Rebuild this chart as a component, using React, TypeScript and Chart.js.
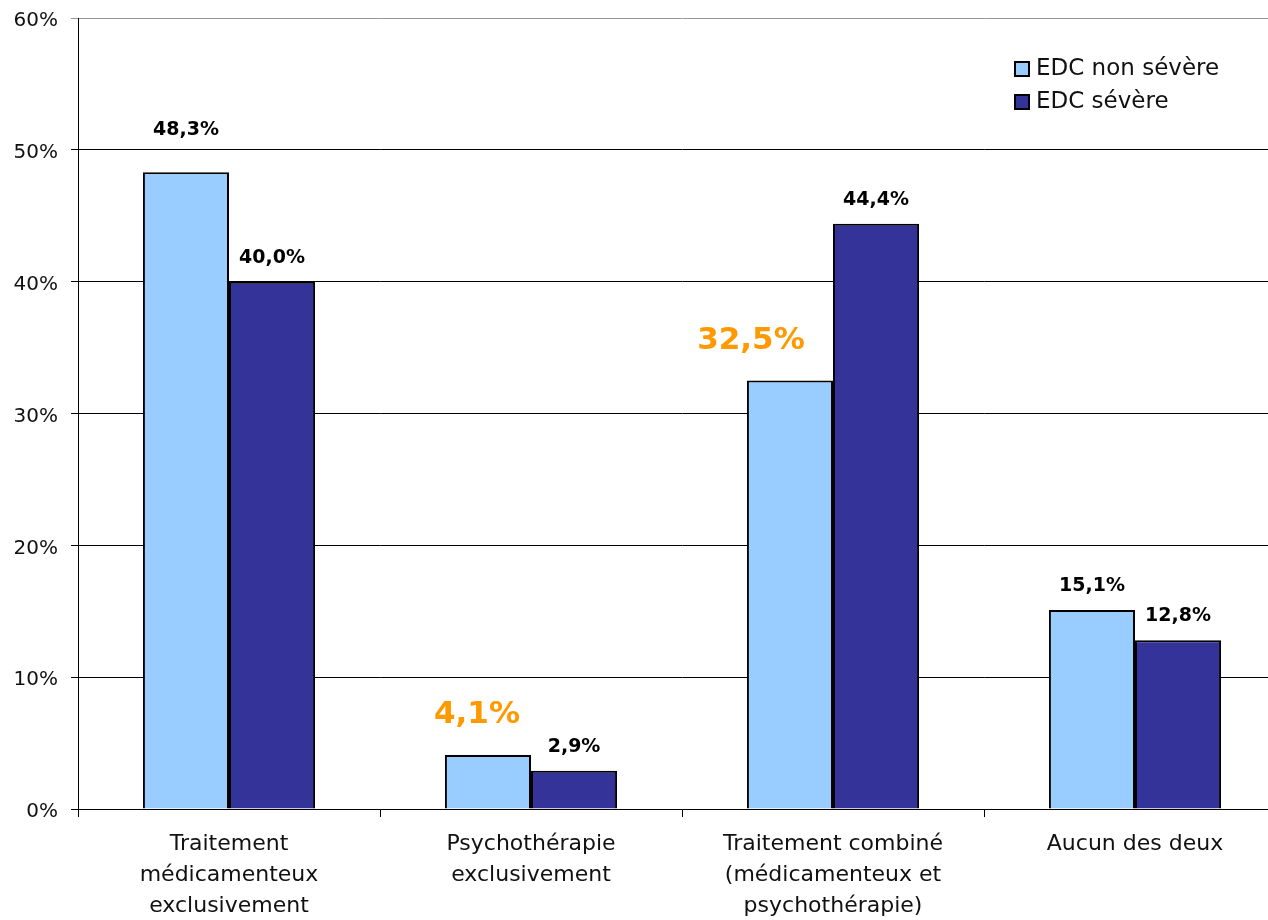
import React, { useEffect, useRef } from "react";
import { Chart, registerables } from "chart.js";

Chart.register(...registerables);

const categories: string[][] = [
  ["Traitement", "médicamenteux", "exclusivement"],
  ["Psychothérapie", "exclusivement"],
  ["Traitement combiné", "(médicamenteux et", "psychothérapie)"],
  ["Aucun des deux"],
];
const seriesNames = ["EDC non sévère", "EDC sévère"];
const nonSevere = [48.3, 4.1, 32.5, 15.1];
const severe = [40.0, 2.9, 44.4, 12.8];
const valueLabels = [
  ["48,3%", "4,1%", "32,5%", "15,1%"],
  ["40,0%", "2,9%", "44,4%", "12,8%"],
];
const highlighted = [
  [false, true, true, false],
  [false, false, false, false],
];

const FONT = "'DejaVu Sans', sans-serif";
const LIGHT = "#99CCFF";
const DARK = "#333399";
const ORANGE = "#FF9900";

const labelPlugin = {
  id: "valueLabels",
  afterDatasetsDraw(chart: any) {
    const ctx = chart.ctx;
    ctx.save();
    ctx.textAlign = "center";
    ctx.textBaseline = "middle";
    chart.data.datasets.forEach((_ds: any, di: number) => {
      const meta = chart.getDatasetMeta(di);
      meta.data.forEach((bar: any, i: number) => {
        const hi = highlighted[di][i];
        const big = di === 0 && i === 0;
        ctx.fillStyle = hi ? ORANGE : "#000";
        ctx.font = hi ? `bold 31px ${FONT}` : `bold 19px ${FONT}`;
        const dy = hi ? 40 : big ? 42 : 24;
        const dx = hi ? (i === 2 ? -39 : -11) : 0;
        ctx.fillText(valueLabels[di][i], bar.x + dx, bar.y - dy);
      });
    });
    ctx.restore();
  },
};

const legendPlugin = {
  id: "customLegend",
  afterDraw(chart: any) {
    const ctx = chart.ctx;
    ctx.save();
    const colors = [LIGHT, DARK];
    ctx.font = `23px ${FONT}`;
    ctx.textBaseline = "middle";
    ctx.textAlign = "left";
    seriesNames.forEach((name, i) => {
      const y = 69 + i * 33;
      ctx.fillStyle = colors[i];
      ctx.fillRect(1015, y - 7, 14, 14);
      ctx.strokeStyle = "#000";
      ctx.lineWidth = 2;
      ctx.strokeRect(1015, y - 7, 14, 14);
      ctx.fillStyle = "#111";
      ctx.fillText(name, 1036, y);
    });
    ctx.restore();
  },
};

export default function App() {
  const ref = useRef<HTMLCanvasElement>(null);
  useEffect(() => {
    if (!ref.current) return;
    const chart = new Chart(ref.current, {
      type: "bar",
      data: {
        labels: categories,
        datasets: [
          {
            label: seriesNames[0],
            data: nonSevere,
            backgroundColor: LIGHT,
            borderColor: "#000",
            borderWidth: 2,
          },
          {
            label: seriesNames[1],
            data: severe,
            backgroundColor: DARK,
            borderColor: "#000",
            borderWidth: 2,
          },
        ],
      },
      options: {
        animation: false,
        responsive: true,
        maintainAspectRatio: false,
        layout: { padding: { top: 18, right: 14, left: 0, bottom: 0 } },
        datasets: { bar: { categoryPercentage: 0.57, barPercentage: 1 } },
        plugins: { legend: { display: false }, tooltip: { enabled: false } },
        scales: {
          x: {
            offset: true,
            grid: {
              offset: true,
              drawOnChartArea: false,
              drawTicks: true,
              tickLength: 8,
              color: "#000",
            },
            border: { display: true, color: "#000", width: 1 },
            ticks: {
              color: "#111",
              font: { family: FONT, size: 22, lineHeight: 1.4 },
              padding: 12,
              maxRotation: 0,
              autoSkip: false,
            },
            afterFit: (s: any) => {
              s.height = 111;
              s.paddingTop = 0;
              s.paddingBottom = 0;
            },
          },
          y: {
            min: 0,
            max: 60,
            grid: {
              color: (c: any) => (c.tick && c.tick.value === 60 ? "#999" : "#000"),
              lineWidth: 1,
              drawTicks: true,
              tickLength: 7,
            },
            border: { display: true, color: "#000", width: 1 },
            ticks: {
              stepSize: 10,
              color: "#111",
              font: { family: FONT, size: 20 },
              padding: 13,
              labelOffset: 3,
              callback: (v: any) => `${v}%`,
            },
            afterFit: (s: any) => {
              s.width = 78;
              s.paddingTop = 0;
              s.paddingBottom = 0;
            },
          },
        },
      },
      plugins: [labelPlugin, legendPlugin],
    });
    return () => chart.destroy();
  }, []);
  return (
    <div style={{ position: "fixed", left: 0, top: 0, width: 1300, height: 920, background: "#fff" }}>
      <canvas ref={ref} />
    </div>
  );
}
